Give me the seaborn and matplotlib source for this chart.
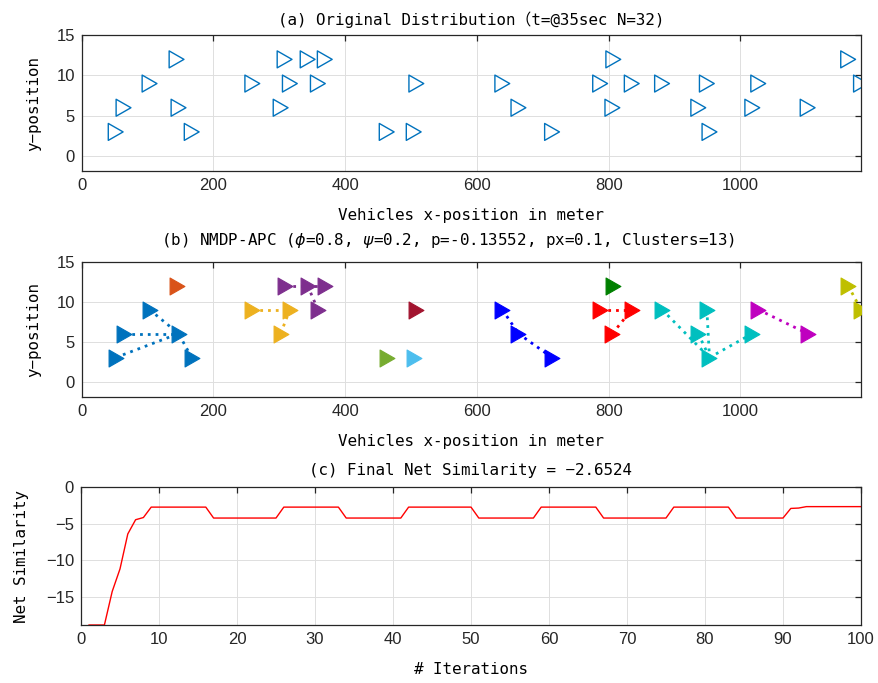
import matplotlib
matplotlib.use("Agg")
import matplotlib.pyplot as plt
import seaborn as sns
import pandas as pd
from matplotlib.path import Path

# ---------------- data ----------------
x_pos = [51.6, 63.5, 103, 144, 147, 167, 259, 302, 308, 316, 343, 358.5, 369,
         463, 504, 508, 638.5, 663, 714, 787, 805.6, 807, 835, 881, 936, 949,
         953, 1018, 1027, 1102, 1163.5, 1183]
y_pos = [3, 6, 9, 12, 6, 3, 9, 6, 12, 9, 12, 9, 12,
         3, 3, 9, 9, 6, 3, 9, 6, 12, 9, 9, 6, 9,
         3, 6, 9, 6, 12, 9]
# index of the exemplar each vehicle is assigned to
exemplar = [4, 4, 4, 3, 4, 4, 9, 9, 10, 9, 10, 10, 10,
            13, 14, 15, 17, 17, 17, 22, 22, 21, 22, 26, 26, 26,
            26, 26, 29, 29, 31, 31]
cluster_exemplars = [4, 3, 9, 10, 13, 14, 15, 17, 21, 22, 26, 29, 31]
cluster_colors = ["#0072BD", "#D95319", "#EDB120", "#7E2F8E", "#77AC30",
                  "#4DBEEE", "#A2142F", "#0000FF", "#008000", "#FF0000",
                  "#00BFBF", "#BF00BF", "#BFBF00"]

iterations = list(range(1, 101))
net_similarity = [
    -18.9, -18.9, -18.9, -14.3, -11.2, -6.4, -4.45, -4.15,
    -2.72, -2.72, -2.72, -2.72, -2.72, -2.72, -2.72, -2.72,
    -4.22, -4.22, -4.22, -4.22, -4.22, -4.22, -4.22, -4.22, -4.22,
    -2.72, -2.72, -2.72, -2.72, -2.72, -2.72, -2.72, -2.72,
    -4.22, -4.22, -4.22, -4.22, -4.22, -4.22, -4.22, -4.22,
    -2.72, -2.72, -2.72, -2.72, -2.72, -2.72, -2.72, -2.72, -2.72,
    -4.22, -4.22, -4.22, -4.22, -4.22, -4.22, -4.22, -4.22,
    -2.72, -2.72, -2.72, -2.72, -2.72, -2.72, -2.72, -2.72,
    -4.22, -4.22, -4.22, -4.22, -4.22, -4.22, -4.22, -4.22, -4.22,
    -2.72, -2.72, -2.72, -2.72, -2.72, -2.72, -2.72, -2.72,
    -4.22, -4.22, -4.22, -4.22, -4.22, -4.22, -4.22,
    -2.9, -2.85,
    -2.6524, -2.6524, -2.6524, -2.6524, -2.6524, -2.6524, -2.6524, -2.6524,
]

title_a = "(a) Original Distribution（t=@35sec N=32)"
title_b = r"(b) NMDP-APC ($\phi$=0.8, $\psi$=0.2, p=-0.13552, px=0.1, Clusters=13)"
title_c = "(c) Final Net Similarity = \u22122.6524"
xlabel_ab = "Vehicles x-position in meter"
ylabel_ab = "y\u2212position"
xlabel_c = "# Iterations"
ylabel_c = "Net Similarity"

# ---------------- style ----------------
sns.set_style("white")
plt.rcParams["font.family"] = ["Liberation Sans", "DejaVu Sans"]
plt.rcParams["axes.unicode_minus"] = True
LBL = ["DejaVu Sans Mono", "Noto Sans CJK JP", "DejaVu Sans"]
FS = 11.4
TXT = "#262626"

tri = Path([(-0.875, 1.0), (0.875, 0.0), (-0.875, -1.0), (-0.875, 1.0)],
           [Path.MOVETO, Path.LINETO, Path.LINETO, Path.CLOSEPOLY])

fig = plt.figure(figsize=(8.79, 6.83), dpi=100)
W, H = 879, 683


def add_ax(left, top, right, bottom):
    return fig.add_axes([left / W, 1 - bottom / H, (right - left) / W, (bottom - top) / H])


ax_a = add_ax(81.7, 35.2, 861, 171)
ax_b = add_ax(81.7, 261.7, 861, 396.7)
ax_c = add_ax(81.0, 487.3, 861, 625)


def style(ax):
    ax.grid(True, color="#dedede", lw=0.7)
    ax.set_axisbelow(True)
    for s in ax.spines.values():
        s.set_color(TXT)
        s.set_linewidth(0.9)
        s.set_visible(True)
    ax.tick_params(direction="in", top=True, right=True, length=4, width=0.9,
                   colors=TXT, labelsize=12, labelcolor=TXT, pad=5)


def texts(ax, title, xl, yl, tpad, ypad, tx=0.5):
    ax.set_title(title, family=LBL, fontsize=FS, color="black", pad=tpad, x=tx)
    ax.set_xlabel(xl, family=LBL, fontsize=FS, color="black", labelpad=11)
    ax.set_ylabel(yl, family=LBL, fontsize=FS, color="black", labelpad=ypad)


df = pd.DataFrame({"x": x_pos, "y": y_pos, "ex": exemplar})
MS = 12.2

# (a) original distribution
sns.scatterplot(data=df, x="x", y="y", marker=tri, s=MS ** 2, facecolor="none",
                edgecolor="#0072BD", color="#0072BD", linewidth=1.0, ax=ax_a, zorder=3)
ax_a.set_xlim(0, max(x_pos))
ax_a.set_ylim(-1.85, 15)
ax_a.set_xticks([0, 200, 400, 600, 800, 1000])
ax_a.set_yticks([0, 5, 10, 15])
style(ax_a)
texts(ax_a, title_a, xlabel_ab, ylabel_ab, tpad=7, ypad=10.5)

# (b) clustered
for ex, col in zip(cluster_exemplars, cluster_colors):
    members = df[df["ex"] == ex]
    for _, r in members.iterrows():
        if r.name != ex:
            ax_b.plot([r["x"], x_pos[ex]], [r["y"], y_pos[ex]], color=col, lw=2.0,
                      linestyle=(0, (1, 1.8)), zorder=2)
for ex, col in zip(cluster_exemplars, cluster_colors):
    members = df[df["ex"] == ex]
    sns.scatterplot(data=members, x="x", y="y", marker=tri, s=MS ** 2,
                    color=col, edgecolor=col, linewidth=0.8, ax=ax_b, zorder=3)
ax_b.set_xlim(0, max(x_pos))
ax_b.set_ylim(-1.9, 15)
ax_b.set_xticks([0, 200, 400, 600, 800, 1000])
ax_b.set_yticks([0, 5, 10, 15])
style(ax_b)
texts(ax_b, title_b, xlabel_ab, ylabel_ab, tpad=12, ypad=10.5, tx=0.47)

# (c) net similarity
sim = pd.DataFrame({"it": iterations, "ns": net_similarity})
sns.lineplot(data=sim, x="it", y="ns", color="#FF0000", lw=1.0, ax=ax_c)
ax_c.set_xlim(0, 100)
ax_c.set_ylim(min(net_similarity), 0)
ax_c.set_xticks(list(range(0, 101, 10)))
ax_c.set_yticks([-15, -10, -5, 0])
style(ax_c)
texts(ax_c, title_c, xlabel_c, ylabel_c, tpad=9, ypad=12)

fig.savefig("out.png", dpi=100)
